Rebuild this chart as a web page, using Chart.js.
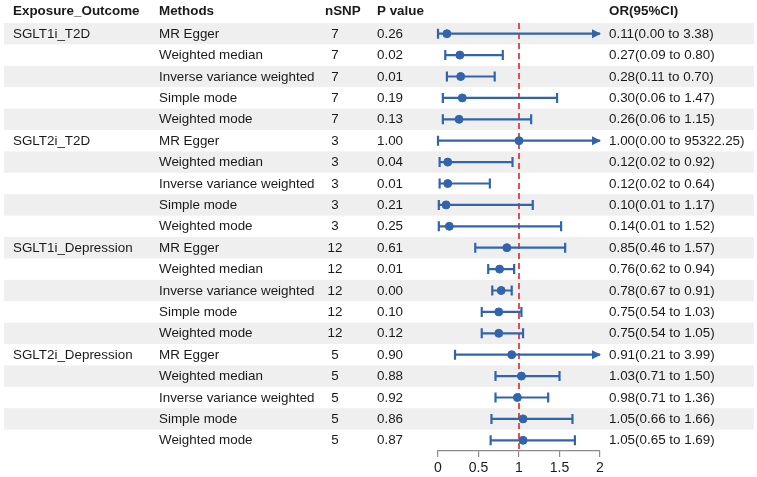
<!DOCTYPE html>
<html>
<head>
<meta charset="utf-8">
<script src="https://cdn.jsdelivr.net/npm/chart.js@4.4.0/dist/chart.umd.min.js"></script>
<style>
  html, body { margin: 0; padding: 0; background: #fff; }
  #wrap { width: 757px; height: 477px; }
</style>
</head>
<body>
<div id="wrap"><canvas id="forest"></canvas></div>
<script>
var exposures = ['SGLT1i_T2D', 'SGLT2i_T2D', 'SGLT1i_Depression', 'SGLT2i_Depression'];
var methods = ['MR Egger', 'Weighted median', 'Inverse variance weighted', 'Simple mode', 'Weighted mode'];
var nSNP = [7, 7, 7, 7, 7, 3, 3, 3, 3, 3, 12, 12, 12, 12, 12, 5, 5, 5, 5, 5];
var pValues = ['0.26', '0.02', '0.01', '0.19', '0.13', '1.00', '0.04', '0.01', '0.21', '0.25',
               '0.61', '0.01', '0.00', '0.10', '0.12', '0.90', '0.88', '0.92', '0.86', '0.87'];
var orValues = [0.11, 0.27, 0.28, 0.30, 0.26, 1.00, 0.12, 0.12, 0.10, 0.14,
                0.85, 0.76, 0.78, 0.75, 0.75, 0.91, 1.03, 0.98, 1.05, 1.05];
var ciLower = [0.00, 0.09, 0.11, 0.06, 0.06, 0.00, 0.02, 0.02, 0.01, 0.01,
               0.46, 0.62, 0.67, 0.54, 0.54, 0.21, 0.71, 0.71, 0.66, 0.65];
var ciUpper = [3.38, 0.80, 0.70, 1.47, 1.15, 95322.25, 0.92, 0.64, 1.17, 1.52,
               1.57, 0.94, 0.91, 1.03, 1.05, 3.99, 1.50, 1.36, 1.66, 1.69];
var xTicks = [0, 0.5, 1, 1.5, 2];

var blue = '#3264ae';
var textColor = '#1a1a1a';
var fontTxt = '13.4px "Liberation Sans", Arial, sans-serif';
var fontBold = 'bold 13.4px "Liberation Sans", Arial, sans-serif';

var points = orValues.map(function (v, i) { return { x: v, y: i + 1 }; });

// fond gris une ligne sur deux + ligne rouge à OR = 1
var bgPlugin = {
    id: 'bgRows',
    beforeDraw: function (chart) {
        var c = chart.ctx, ys = chart.scales.y;
        c.save();
        c.fillStyle = '#efefef';
        for (var r = 1; r <= orValues.length; r += 2) {
            var top = ys.getPixelForValue(r - 0.5), bot = ys.getPixelForValue(r + 0.5);
            c.fillRect(4, top, 750, bot - top);
        }
        c.restore();
    },
    beforeDatasetsDraw: function (chart) {
        var c = chart.ctx, xs = chart.scales.x, ys = chart.scales.y, a = chart.chartArea;
        c.save();
        c.strokeStyle = '#e02424';
        c.lineWidth = 1.6;
        c.setLineDash([6, 4]);
        var x1 = xs.getPixelForValue(1);
        c.beginPath();
        c.moveTo(x1, a.top);
        c.lineTo(x1, a.bottom);
        c.stroke();
        c.setLineDash([]);
        // barres d'erreur
        c.strokeStyle = blue;
        c.fillStyle = blue;
        c.lineWidth = 2.2;
        for (var i = 0; i < orValues.length; i++) {
            var y = ys.getPixelForValue(i + 1);
            var lo = Math.max(ciLower[i], 0);
            var hi = Math.min(ciUpper[i], 2);
            var xl = xs.getPixelForValue(lo), xh = xs.getPixelForValue(hi);
            c.beginPath();
            c.moveTo(xl, y); c.lineTo(xh, y);
            c.moveTo(xl, y - 5); c.lineTo(xl, y + 5);
            if (ciUpper[i] <= 2) { c.moveTo(xh, y - 5); c.lineTo(xh, y + 5); }
            c.stroke();
            if (ciUpper[i] > 2) {
                c.beginPath();
                c.moveTo(xh + 1, y);
                c.lineTo(xh - 8, y - 4.5);
                c.lineTo(xh - 8, y + 4.5);
                c.closePath();
                c.fill();
            }
        }
        c.restore();
    },
    afterDraw: function (chart) {
        var c = chart.ctx, ys = chart.scales.y;
        c.save();
        c.fillStyle = textColor;
        c.textBaseline = 'middle';
        c.font = fontBold;
        c.textAlign = 'left';
        var hy = 11;
        c.fillText('Exposure_Outcome', 13, hy);
        c.fillText('Methods', 159, hy);
        c.fillText('nSNP', 325, hy);
        c.fillText('P value', 377, hy);
        c.fillText('OR(95%CI)', 609, hy);
        c.font = fontTxt;
        for (var i = 0; i < orValues.length; i++) {
            var y = ys.getPixelForValue(i + 1) + 0.5;
            c.textAlign = 'left';
            if (i % 5 === 0) c.fillText(exposures[i / 5], 13, y);
            c.fillText(methods[i % 5], 159, y);
            c.fillText(pValues[i], 377, y);
            c.fillText(orValues[i].toFixed(2) + '(' + ciLower[i].toFixed(2) + ' to ' + ciUpper[i].toFixed(2) + ')', 609, y);
            c.textAlign = 'center';
            c.fillText(String(nSNP[i]), 335, y);
        }
        c.restore();
    }
};

new Chart(document.getElementById('forest').getContext('2d'), {
    type: 'scatter',
    data: {
        datasets: [{
            data: points,
            backgroundColor: blue,
            borderColor: blue,
            pointRadius: 4,
            pointHoverRadius: 4
        }]
    },
    options: {
        responsive: true,
        maintainAspectRatio: false,
        animation: false,
        layout: { padding: { left: 438, right: 157, top: 23, bottom: 0 } },
        plugins: { legend: { display: false }, tooltip: { enabled: false } },
        scales: {
            x: {
                type: 'linear',
                min: 0,
                max: 2,
                afterBuildTicks: function (s) { s.ticks = xTicks.map(function (v) { return { value: v }; }); },
                afterFit: function (s) { s.height = 26; },
                border: { display: true, color: '#8a8a8a', width: 1.2 },
                grid: { drawOnChartArea: false, drawTicks: true, tickLength: 6, color: '#8a8a8a', lineWidth: 1.2 },
                ticks: {
                    color: textColor,
                    font: { family: '"Liberation Sans", Arial, sans-serif', size: 14 },
                    padding: 3,
                    maxRotation: 0,
                    callback: function (v) { return String(v); }
                }
            },
            y: {
                type: 'linear',
                display: false,
                reverse: true,
                min: 0.5,
                max: 20.5
            }
        }
    },
    plugins: [bgPlugin]
});
</script>
</body>
</html>
